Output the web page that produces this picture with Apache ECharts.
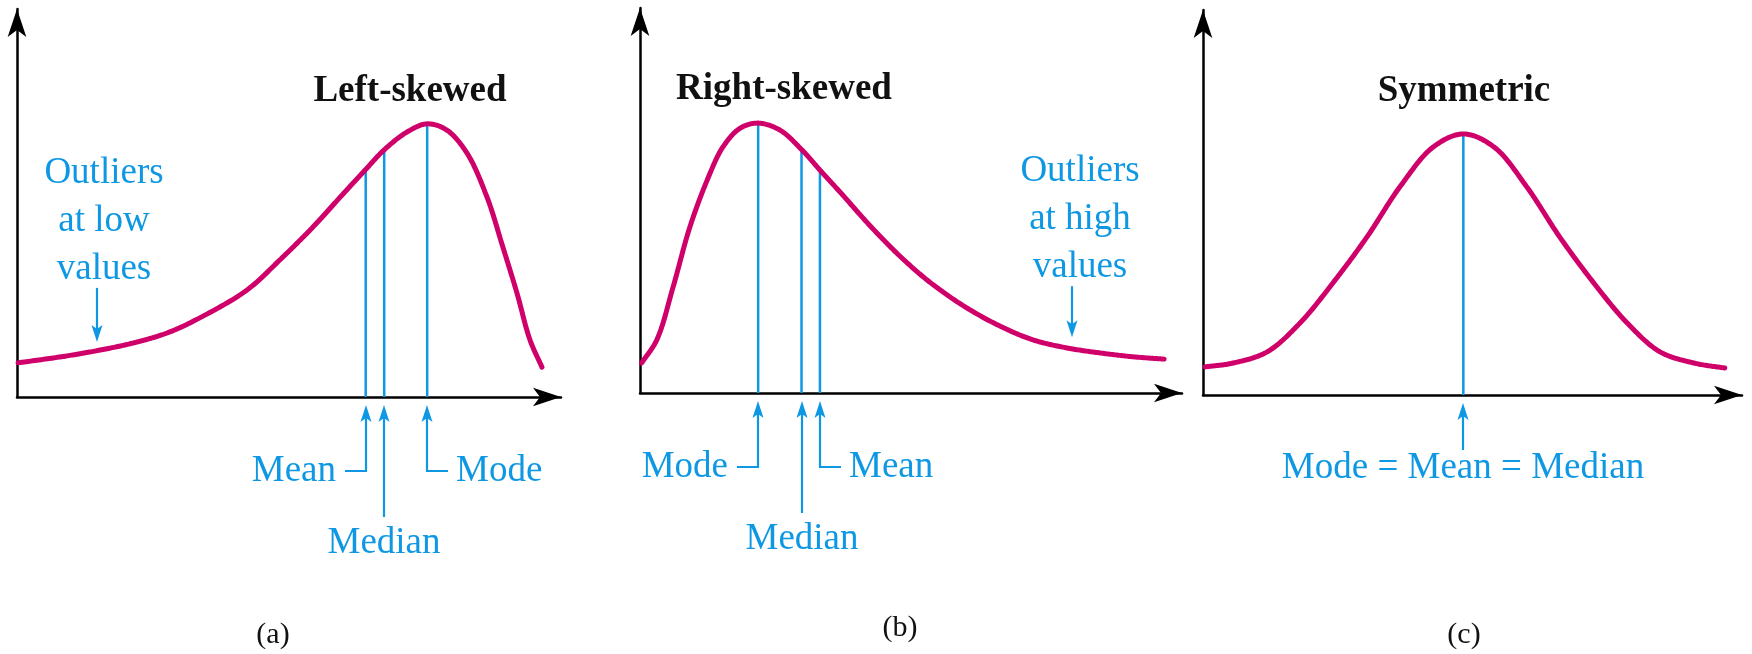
<!DOCTYPE html>
<html>
<head>
<meta charset="utf-8">
<script src="https://cdn.jsdelivr.net/npm/echarts@6/dist/echarts.min.js"></script>
<style>
html,body{margin:0;padding:0;background:#fff;}
#chart{width:1752px;height:654px;}
</style>
</head>
<body>
<div id="chart"></div>
<script>
// ---------- DATA (normalised units: x 0..100 along each axis, y 0..100 up each axis) ----------
const curveA = [[0.2,8.8],[9.2,10.6],[15.3,12.1],[21.3,13.9],[27.6,16.5],[33.6,20.4],[42.3,27.6],[48.3,35.3],[54.4,43.8],[59.4,51.5],[64.0,58.5],[67.5,63.7],[71.7,68.3],[75.4,70.4],[79.0,68.8],[82.7,62.9],[86.4,51.5],[89.3,38.7],[91.9,26.8],[94.3,14.7],[96.5,7.7]];
const curveB = [[0.3,7.8],[3.1,13.8],[6.1,27.5],[9.2,43.1],[12.4,55.3],[15.3,63.9],[18.5,68.8],[21.8,70.1],[25.8,68.3],[29.9,63.1],[33.2,57.9],[36.9,52.2],[43.0,42.6],[48.9,34.3],[54.1,28.1],[60.3,22.1],[66.4,17.4],[72.5,13.8],[78.8,11.7],[84.9,10.4],[91.0,9.4],[96.7,8.8]];
const curveC = [[0.4,7.3],[5.6,8.3],[11.9,11.2],[18.0,18.7],[24.1,29.1],[30.4,41.0],[36.5,54.0],[42.7,64.4],[48.3,67.8],[54.0,64.4],[60.1,54.0],[66.2,41.0],[72.5,29.1],[78.7,18.7],[84.8,11.2],[91.1,8.3],[96.8,7.0]];

const statNamesA = ['Mean', 'Median', 'Mode'];
const statXA = [64.1, 67.5, 75.4];
const statYA = [58.5, 63.7, 70.4];

const statNamesB = ['Mode', 'Median', 'Mean'];
const statXB = [21.8, 29.8, 33.2];
const statYB = [70.1, 63.1, 57.9];

const statNamesC = ['Mode = Mean = Median'];
const statXC = [48.3];
const statYC = [67.8];

const titles = ['Left-skewed', 'Right-skewed', 'Symmetric'];
const panelLabels = ['(a)', '(b)', '(c)'];
const outlierLinesA = ['Outliers', 'at low', 'values'];
const outlierLinesB = ['Outliers', 'at high', 'values'];

// ---------- LAYOUT / STYLE ----------
const FONT = '"Liberation Serif", "Times New Roman", serif';
const CURVE = '#cf006a';
const BLUE = '#0e98e3';
const INK = '#111111';
const TXT = 37;
const gridBoxes = [
  {left: 17, top: 9, width: 544, height: 388},
  {left: 640, top: 8, width: 542, height: 385},
  {left: 1203, top: 10, width: 539, height: 385}
];
const statSides = [['left', 'down', 'right'], ['left', 'down', 'right'], ['short']];
const outlierArrows = [
  {panel: 0, x: 14.7, tipY: 14.2, len: 54, dx: 7, lines: outlierLinesA},
  {panel: 1, x: 79.7, tipY: 14.5, len: 51, dx: 8, lines: outlierLinesB}
];
const titlePos = [[410, 91], [784, 89], [1464, 91]];
const labelPos = [[273, 635], [900, 628], [1464, 635]];

const curves = [curveA, curveB, curveC];
const stats = [[statNamesA, statXA, statYA], [statNamesB, statXB, statYB], [statNamesC, statXC, statYC]];

function axis(i) {
  return {
    gridIndex: i, type: 'value', min: 0, max: 100,
    axisLine: {show: true, onZero: false, symbol: ['none', 'arrow'], symbolSize: [14, 28],
      lineStyle: {color: '#000', width: 2.5}},
    axisTick: {show: false}, axisLabel: {show: false}, splitLine: {show: false}
  };
}

// centripetal Catmull-Rom rendering of the pixel points given by the axes
function splinePixels(pts) {
  const out = [];
  const n = pts.length;
  const P = (i) => {
    if (i < 0) return [2 * pts[0][0] - pts[1][0], 2 * pts[0][1] - pts[1][1]];
    if (i >= n) return [2 * pts[n - 1][0] - pts[n - 2][0], 2 * pts[n - 1][1] - pts[n - 2][1]];
    return pts[i];
  };
  const lerp = (a, b, ta, tb, t) => {
    const d = tb - ta;
    if (d === 0) return a;
    return [(tb - t) / d * a[0] + (t - ta) / d * b[0], (tb - t) / d * a[1] + (t - ta) / d * b[1]];
  };
  const dist = (a, b) => Math.max(1e-6, Math.pow(Math.hypot(b[0] - a[0], b[1] - a[1]), 0.5));
  for (let i = 0; i < n - 1; i++) {
    const p0 = P(i - 1), p1 = P(i), p2 = P(i + 1), p3 = P(i + 2);
    const t0 = 0, t1 = t0 + dist(p0, p1), t2 = t1 + dist(p1, p2), t3 = t2 + dist(p2, p3);
    const steps = 24;
    for (let s = (i === 0 ? 0 : 1); s <= steps; s++) {
      const t = t1 + (t2 - t1) * s / steps;
      const A1 = lerp(p0, p1, t0, t1, t), A2 = lerp(p1, p2, t1, t2, t), A3 = lerp(p2, p3, t2, t3, t);
      const B1 = lerp(A1, A2, t0, t2, t), B2 = lerp(A2, A3, t1, t3, t);
      out.push(lerp(B1, B2, t1, t2, t));
    }
  }
  return out;
}

const series = [];
curves.forEach((c, i) => {
  series.push({
    type: 'custom', coordinateSystem: 'cartesian2d', xAxisIndex: i, yAxisIndex: i,
    data: c, z: 3, silent: true, clip: false,
    renderItem: function (params, api) {
      if (params.dataIndex !== 0) return null;
      const px = c.map(p => api.coord(p));
      return {type: 'polyline', shape: {points: splinePixels(px)},
        style: {stroke: CURVE, lineWidth: 5, fill: null, lineCap: 'round', lineJoin: 'round'}};
    }
  });
});
stats.forEach(([names, xs, ys], i) => {
  xs.forEach((x, k) => {
    series.push({type: 'line', xAxisIndex: i, yAxisIndex: i, data: [[x, 0], [x, ys[k]]],
      symbol: 'none', lineStyle: {color: BLUE, width: 2.5}, z: 2, silent: true});
  });
});

const chart = echarts.init(document.getElementById('chart'), null, {renderer: 'canvas'});
chart.setOption({
  animation: false,
  backgroundColor: '#ffffff',
  grid: gridBoxes.map(g => Object.assign({containLabel: false}, g)),
  xAxis: gridBoxes.map((g, i) => axis(i)),
  yAxis: gridBoxes.map((g, i) => axis(i)),
  series: series
});

function txt(text, x, y, align, size, weight, color) {
  return {type: 'text', silent: true, z: 10, style: {
    text: text, x: x, y: y, font: (weight || 'normal') + ' ' + size + 'px ' + FONT,
    fill: color, align: align, verticalAlign: 'middle', textAlign: align, textVerticalAlign: 'middle'}};
}
function upHead(x, y) {
  return {type: 'polygon', silent: true, z: 10, shape: {points: [[x, y], [x - 5.5, y + 17], [x, y + 13], [x + 5.5, y + 17]]}, style: {fill: BLUE}};
}
function downHead(x, y) {
  return {type: 'polygon', silent: true, z: 10, shape: {points: [[x, y], [x - 5.5, y - 17], [x, y - 13], [x + 5.5, y - 17]]}, style: {fill: BLUE}};
}
function poly(points) {
  return {type: 'polyline', silent: true, z: 10, shape: {points: points}, style: {stroke: BLUE, lineWidth: 2.2, fill: null}};
}

const graphics = [];
stats.forEach(([names, xs], i) => {
  xs.forEach((v, k) => {
    const p = chart.convertToPixel({gridIndex: i}, [v, 0]);
    const x = Math.round(p[0]), y0 = p[1];
    const tip = y0 + 8;
    graphics.push(upHead(x, tip));
    const side = statSides[i][k];
    if (side === 'left') {
      graphics.push(poly([[x, tip + 12], [x, y0 + 74], [x - 21, y0 + 74]]));
      graphics.push(txt(names[k], x - 30, y0 + 74, 'right', TXT, 'normal', BLUE));
    } else if (side === 'right') {
      graphics.push(poly([[x, tip + 12], [x, y0 + 74], [x + 21, y0 + 74]]));
      graphics.push(txt(names[k], x + 29, y0 + 74, 'left', TXT, 'normal', BLUE));
    } else if (side === 'down') {
      graphics.push(poly([[x, tip + 12], [x, y0 + 120]]));
      graphics.push(txt(names[k], x, y0 + 146, 'center', TXT, 'normal', BLUE));
    } else {
      graphics.push(poly([[x, tip + 12], [x, y0 + 55]]));
      graphics.push(txt(names[k], x, y0 + 73, 'center', TXT, 'normal', BLUE));
    }
  });
});
outlierArrows.forEach(o => {
  const p = chart.convertToPixel({gridIndex: o.panel}, [o.x, o.tipY]);
  const x = Math.round(p[0]), tip = p[1], top = tip - o.len;
  graphics.push(poly([[x, top], [x, tip - 12]]));
  graphics.push(downHead(x, tip));
  o.lines.forEach((line, j) => {
    graphics.push(txt(line, x + o.dx, top - 19 - (o.lines.length - 1 - j) * 48, 'center', TXT, 'normal', BLUE));
  });
});
titles.forEach((t, i) => graphics.push(txt(t, titlePos[i][0], titlePos[i][1], 'center', TXT, 'bold', INK)));
panelLabels.forEach((t, i) => graphics.push(txt(t, labelPos[i][0], labelPos[i][1], 'center', 30, 'normal', INK)));

chart.setOption({graphic: {elements: graphics}});
</script>
</body>
</html>
